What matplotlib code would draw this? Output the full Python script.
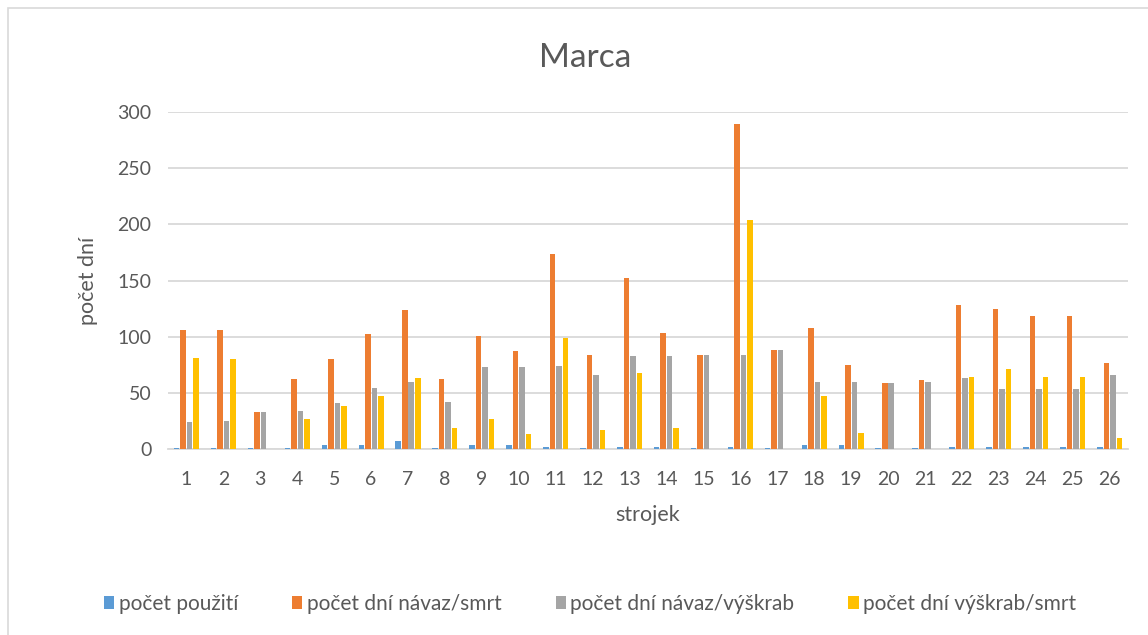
import matplotlib

matplotlib.use("Agg")

import matplotlib.pyplot as plt
import numpy as np
from matplotlib.patches import Rectangle

plt.rcParams["font.family"] = ["Lato", "DejaVu Sans"]

machines = [str(i) for i in range(1, 27)]
uses = [1, 1, 1, 1, 4, 4, 7, 1, 4, 4, 2, 1, 2, 2, 1, 2, 1, 4, 4, 1, 1, 2, 2, 2, 2, 2]
days_tie_death = [106, 106, 33, 62, 80, 102, 124, 62, 101, 87, 174, 84, 152, 103, 84, 289,
                  88, 108, 75, 59, 61, 128, 125, 118, 118, 77]
days_tie_scrape = [24, 25, 33, 34, 41, 54, 60, 42, 73, 73, 74, 66, 83, 83, 84, 84,
                   88, 60, 60, 59, 60, 63, 53, 53, 53, 66]
days_scrape_death = [81, 80, 0, 27, 38, 47, 63, 19, 27, 13, 99, 17, 68, 19, 0, 204,
                     0, 47, 14, 0, 0, 64, 71, 64, 64, 10]

series = [
    ("počet použití", uses, "#5B9BD5"),
    ("počet dní návaz/smrt", days_tie_death, "#ED7D31"),
    ("počet dní návaz/výškrab", days_tie_scrape, "#A5A5A5"),
    ("počet dní výškrab/smrt", days_scrape_death, "#FFC000"),
]

text_color = "#595959"
grid_color = "#D9D9D9"

fig = plt.figure(figsize=(11.48, 6.35), dpi=100)
ax = fig.add_axes([168 / 1148, 1 - 449 / 635, (1128 - 168) / 1148, (449 - 112) / 635])

x = np.arange(1, len(machines) + 1)
step = 0.176
width = 0.15
for i, (label, values, color) in enumerate(series):
    ax.bar(x + (i - 1.5) * step, values, width=width, color=color, label=label, zorder=3)

ax.set_xlim(0.5, 26.5)
ax.set_ylim(0, 300)
ax.set_yticks(np.arange(0, 301, 50))
ax.set_xticks(x)
ax.set_xticklabels(machines)
ax.yaxis.grid(True, color=grid_color, linewidth=1.3, zorder=0)
for side in ["top", "right", "left"]:
    ax.spines[side].set_visible(False)
ax.spines["bottom"].set_color(grid_color)
ax.spines["bottom"].set_linewidth(1.3)
ax.tick_params(length=0, labelsize=14, colors=text_color)
ax.tick_params(axis="x", pad=16)
ax.tick_params(axis="y", pad=12)

ax.set_xlabel("strojek", fontsize=15.5, color=text_color, labelpad=12)
ax.set_ylabel("počet dní", fontsize=15.5, color=text_color, labelpad=14)
fig.text(585 / 1148, 1 - 58 / 635, "Marca", fontsize=24, color=text_color, ha="center", va="center")

fig.legend(
    loc="center", bbox_to_anchor=(590 / 1148, 1 - 604 / 635), ncol=4, frameon=False,
    fontsize=15, labelcolor=text_color, handlelength=0.5, handleheight=0.6,
    handletextpad=0.2, columnspacing=2.6,
)

fig.patches.append(Rectangle((8 / 1148, -0.05), 1.2, 1.05 - 8 / 635, transform=fig.transFigure,
                             fill=False, edgecolor=grid_color, linewidth=1.2))

fig.savefig("out.png", dpi=100)
